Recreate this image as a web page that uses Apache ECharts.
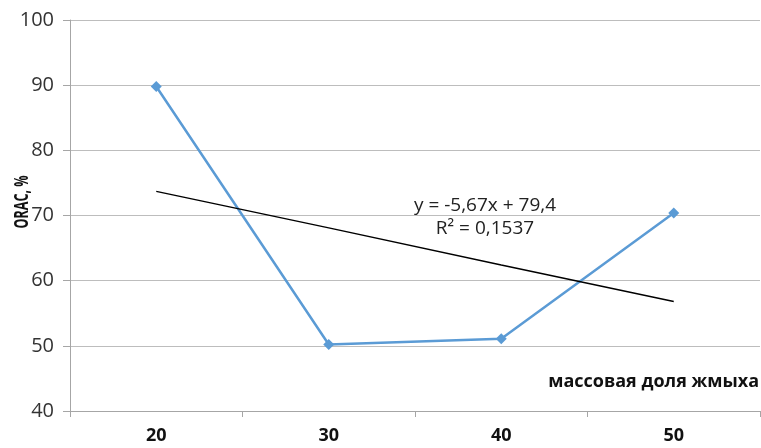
<!DOCTYPE html>
<html><head><meta charset="utf-8">
<script src="https://cdn.jsdelivr.net/npm/echarts@6/dist/echarts.min.js"></script>
<style>html,body{margin:0;padding:0;background:#fff}#c{width:761px;height:448px}</style>
</head><body><div id="c"></div>
<script>
const categories = ['20', '30', '40', '50'];
const oracValues = [89.8, 50.2, 51.1, 70.4];
const trendValues = [73.7, 68.1, 62.4, 56.8];
const yTicks = [40, 50, 60, 70, 80, 90, 100];
const equationText = 'y = -5,67x + 79,4';
const r2Text = 'R² = 0,1537';
const xName = 'массовая доля жмыха';
const yName = 'ORAC, %';

const FONT = '"Open Sans", "Noto Sans", sans-serif';
const chart = echarts.init(document.getElementById('c'), null, {renderer: 'canvas'});
chart.setOption({
  animation: false,
  grid: {left: 70, right: 1, top: 20, bottom: 37},
  xAxis: {
    type: 'category', data: categories, boundaryGap: true,
    axisLine: {lineStyle: {color: '#A6A6A6', width: 1}},
    axisTick: {show: true, length: 6, lineStyle: {color: '#A6A6A6'}},
    axisLabel: {color: '#111', fontWeight: 'bold', fontSize: 18, fontFamily: FONT, margin: 16}
  },
  yAxis: {
    type: 'value', min: yTicks[0], max: yTicks[yTicks.length - 1], interval: 10,
    axisLine: {show: true, lineStyle: {color: '#A6A6A6', width: 1}},
    axisTick: {show: true, length: 7, lineStyle: {color: '#A6A6A6'}},
    splitLine: {lineStyle: {color: '#BDBDBD', width: 1}},
    axisLabel: {color: '#333', fontSize: 20, fontFamily: FONT, margin: 16}
  },
  graphic: [
    {type: 'text', x: 23, y: 202, rotation: Math.PI / 2, scaleX: 0.66, scaleY: 1.0,
     style: {text: yName, font: 'bold 19px ' + FONT, fill: '#111', textAlign: 'center', textVerticalAlign: 'middle'}},
    {type: 'text', right: 2, top: 373,
     style: {text: xName, font: 'bold 18px ' + FONT, fill: '#111'}}
  ],
  series: [
    {
      type: 'line', data: oracValues, symbol: 'diamond', symbolSize: 11,
      itemStyle: {color: '#5B9BD5'}, lineStyle: {color: '#5B9BD5', width: 2.5}
    },
    {
      type: 'line', data: trendValues, symbol: 'none',
      lineStyle: {color: '#000', width: 1.5},
      markPoint: {
        symbol: 'rect', symbolSize: 0,
        data: [
          {x: 485, y: 206, label: {show: true, formatter: equationText, color: '#222', fontSize: 19, fontFamily: FONT}},
          {x: 485, y: 229, label: {show: true, formatter: r2Text, color: '#222', fontSize: 19, fontFamily: FONT}}
        ]
      }
    }
  ]
});
</script></body></html>
